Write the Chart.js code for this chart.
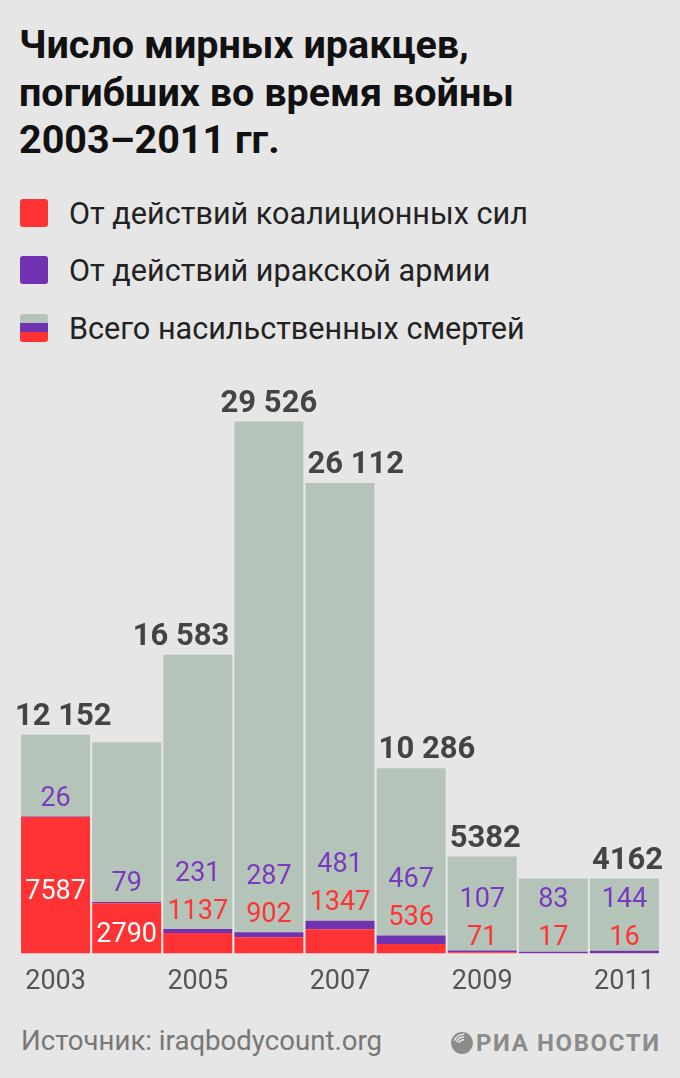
<!DOCTYPE html>
<html>
<head>
<meta charset="utf-8">
<script src="https://cdn.jsdelivr.net/npm/chart.js@4.4.1/dist/chart.umd.min.js"></script>
<style>
  html, body { margin: 0; padding: 0; }
  body {
    width: 680px; height: 1078px; overflow: hidden; position: relative;
    background: #e6e6e6; font-family: Roboto, "Noto Sans", sans-serif;
  }
  #title {
    position: absolute; left: 19px; top: 21px;
    font-size: 39.5px; line-height: 47.5px; font-weight: 700; color: #111;
  }
  .row {
    position: absolute; left: 20px; height: 28px;
    display: flex; align-items: center;
    font-size: 30.6px; color: #222;
  }
  .sw { width: 28px; height: 28px; border-radius: 3px; margin-right: 21px; flex: none; }
  #chart { position: absolute; left: 0; top: 370px; }
  #source {
    position: absolute; left: 21px; top: 1024px;
    font-size: 27.6px; color: #777; line-height: 34px;
  }
  #logo {
    position: absolute; left: 450px; top: 1029px;
    display: flex; align-items: center; color: #8c8c8c;
    font-size: 24px; font-weight: 700; letter-spacing: 1.6px;
  }
</style>
</head>
<body>
<div id="title">Число мирных иракцев,<br>погибших во время войны<br>2003–2011 гг.</div>

<div class="row" style="top:199px"><div class="sw" style="background:#ff3333"></div>От действий коалиционных сил</div>
<div class="row" style="top:256px"><div class="sw" style="background:#7032b0"></div>От действий иракской армии</div>
<div class="row" style="top:314px"><div class="sw" style="background:linear-gradient(#b5c4b9 0 33%, #7032b0 33% 66%, #ff3333 66% 100%)"></div>Всего насильственных смертей</div>

<canvas id="chart" width="680" height="640"></canvas>

<div id="source">Источник: iraqbodycount.org</div>
<div id="logo">
  <svg width="24" height="24" viewBox="0 0 22 22" style="margin-right:2px">
    <circle cx="11" cy="11" r="10" fill="#8c8c8c"/>
    <path d="M4 9 A9 9 0 0 1 13 3" stroke="#e6e6e6" stroke-width="1.3" fill="none"/>
    <path d="M6 10 A7 7 0 0 1 13 5.5" stroke="#e6e6e6" stroke-width="1.3" fill="none"/>
    <path d="M8 11 A5 5 0 0 1 13 8" stroke="#e6e6e6" stroke-width="1.3" fill="none"/>
  </svg>
  РИА НОВОСТИ
</div>

<script>
const years = ["2003", "2004", "2005", "2006", "2007", "2008", "2009", "2010", "2011"];
const coalition = [7587, 2790, 1137, 902, 1347, 536, 71, 17, 16];
const iraqiArmy = [26, 79, 231, 287, 481, 467, 107, 83, 144];
const totals = [12152, 11736, 16583, 29526, 26112, 10286, 5382, 4167, 4162];
const showTotal = [true, false, true, true, true, true, true, false, true];

const rest = totals.map((t, i) => t - coalition[i] - iraqiArmy[i]);

function fmt(n) {
  const s = String(n);
  return n >= 10000 ? s.slice(0, s.length - 3) + " " + s.slice(-3) : s;
}

const labelsPlugin = {
  id: "labels",
  afterDatasetsDraw(chart) {
    const ctx = chart.ctx;
    const red = chart.getDatasetMeta(0).data;
    const pur = chart.getDatasetMeta(1).data;
    const grey = chart.getDatasetMeta(2).data;
    ctx.save();
    ctx.textBaseline = "alphabetic";

    // red and purple numbers
    const fs = 27;
    ctx.font = "400 " + fs + "px Roboto";
    ctx.textAlign = "center";
    years.forEach((y, i) => {
      const r = red[i], p = pur[i];
      let redY, purY;
      if (r.base - r.y > 40) {
        redY = (r.y + r.base) / 2 + 4;
        purY = p.y - 20;
        ctx.fillStyle = "#ffffff";
      } else {
        redY = Math.max(p.y - 20, r.base - 18);
        if (p.y - 20 < r.base - 25) redY = p.y - 20;
        purY = redY - 38;
        ctx.fillStyle = "#ff3333";
      }
      ctx.fillText(String(coalition[i]), r.x, redY + 0.355 * fs);
      ctx.fillStyle = "#7a3abf";
      ctx.fillText(String(iraqiArmy[i]), r.x, purY + 0.355 * fs);
    });

    // totals above bars
    ctx.font = "700 31px Roboto";
    ctx.fillStyle = "#444444";
    ctx.textAlign = "left";
    years.forEach((y, i) => {
      if (!showTotal[i]) return;
      const b = grey[i];
      const txt = fmt(totals[i]);
      const w = ctx.measureText(txt).width;
      const half = b.width / 2;
      let left = b.x - w / 2;
      if (i > 0 && totals[i - 1] > totals[i]) left = b.x - half + 2;
      else if (i < years.length - 1 && totals[i + 1] > totals[i]) left = b.x + half - 3 - w;
      left = Math.max(left, 15);
      ctx.fillText(txt, left, b.y - 10);
    });
    ctx.restore();
  }
};

const ctx = document.getElementById("chart").getContext("2d");
const chart = new Chart(ctx, {
  type: "bar",
  data: {
    labels: years,
    datasets: [
      { label: "От действий коалиционных сил", data: coalition, backgroundColor: "#ff3333" },
      { label: "От действий иракской армии", data: iraqiArmy, backgroundColor: "#7032b0" },
      { label: "Всего насильственных смертей", data: rest, backgroundColor: "#b5c4b9" }
    ]
  },
  options: {
    responsive: false,
    animation: false,
    events: [],
    layout: { padding: { left: 20, right: 20, top: 7, bottom: 0 } },
    datasets: { bar: { barPercentage: 0.97, categoryPercentage: 1 } },
    plugins: { legend: { display: false }, tooltip: { enabled: false } },
    scales: {
      x: {
        stacked: true,
        grid: { display: false, drawTicks: false },
        border: { display: false },
        ticks: {
          autoSkip: false, maxRotation: 0, padding: 12,
          color: "#555555",
          font: { family: "Roboto", size: 27 },
          callback: function (v, i) { return i % 2 === 0 ? years[i] : ""; }
        }
      },
      y: { stacked: true, display: false, min: 0, max: 32000 }
    }
  },
  plugins: [labelsPlugin]
});
</script>
</body>
</html>
